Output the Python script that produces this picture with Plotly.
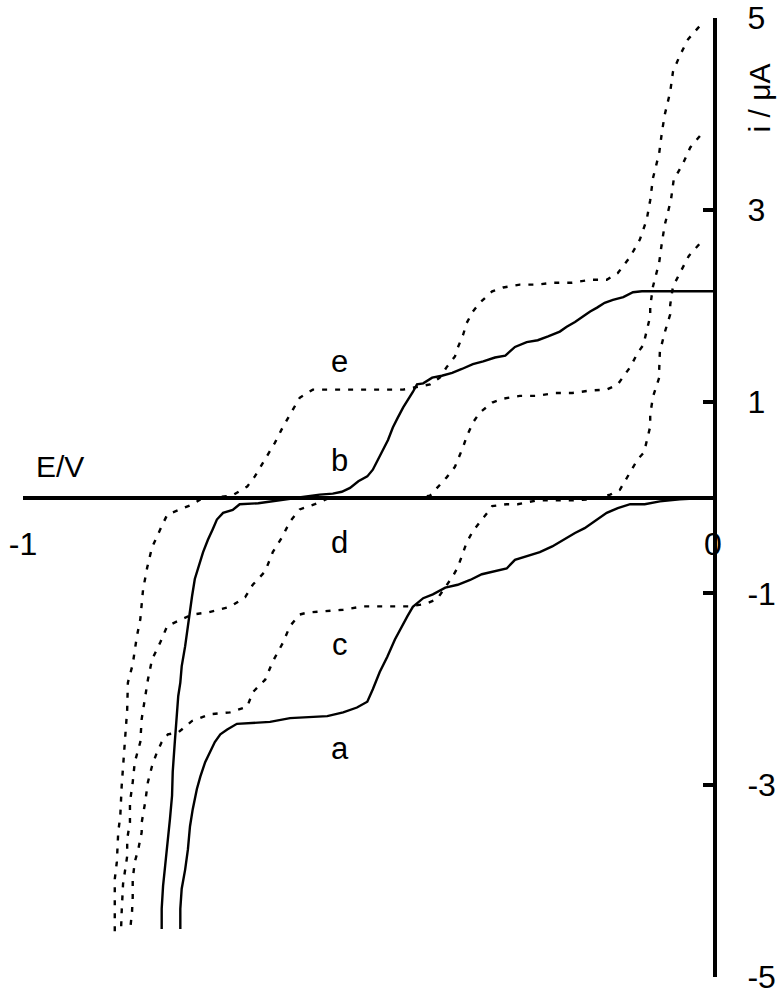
import plotly.graph_objects as go

# Potential E (V) and current i (uA)
E_a = [0, -0.048, -0.077, -0.099, -0.120, -0.138, -0.154, -0.168, -0.186, -0.200, -0.217, -0.233, -0.251, -0.265, -0.287,
       -0.299, -0.319, -0.335, -0.352, -0.370, -0.388, -0.406, -0.420, -0.435, -0.443, -0.451, -0.461, -0.472, -0.483,
       -0.493, -0.501, -0.516, -0.536, -0.559, -0.588, -0.613, -0.642, -0.671, -0.690, -0.704, -0.714, -0.722, -0.729,
       -0.736, -0.743, -0.748, -0.754, -0.758, -0.761, -0.765, -0.770, -0.772, -0.772]
i_a = [0, -0.02, -0.04, -0.07, -0.07, -0.11, -0.16, -0.23, -0.32, -0.37, -0.44, -0.51, -0.57, -0.60, -0.65,
       -0.74, -0.77, -0.80, -0.86, -0.91, -0.94, -1.01, -1.05, -1.14, -1.24, -1.35, -1.48, -1.66, -1.82,
       -2.00, -2.13, -2.19, -2.24, -2.28, -2.29, -2.30, -2.34, -2.35, -2.36, -2.42, -2.47, -2.55, -2.66,
       -2.76, -2.91, -3.04, -3.25, -3.43, -3.67, -3.88, -4.08, -4.29, -4.50]

E_b = [0, -0.103, -0.116, -0.130, -0.145, -0.157, -0.168, -0.178, -0.188, -0.200, -0.212, -0.222, -0.239, -0.254,
       -0.270, -0.287, -0.301, -0.316, -0.333, -0.348, -0.364, -0.378, -0.393, -0.407, -0.420, -0.429, -0.435, -0.442,
       -0.449, -0.457, -0.464, -0.471, -0.478, -0.486, -0.493, -0.501, -0.514, -0.526, -0.538, -0.551, -0.570, -0.600,
       -0.659, -0.686, -0.696, -0.710, -0.719, -0.725, -0.732, -0.739, -0.746, -0.751, -0.755, -0.758, -0.762, -0.765,
       -0.770, -0.772, -0.775, -0.777, -0.780, -0.783, -0.784, -0.787, -0.791, -0.794, -0.797, -0.799, -0.799]
i_b = [2.15, 2.15, 2.14, 2.09, 2.06, 2.03, 1.98, 1.94, 1.89, 1.83, 1.78, 1.73, 1.68, 1.64,
       1.62, 1.57, 1.48, 1.46, 1.42, 1.39, 1.34, 1.30, 1.27, 1.25, 1.19, 1.18, 1.10, 1.02,
       0.94, 0.83, 0.73, 0.60, 0.50, 0.40, 0.29, 0.22, 0.17, 0.10, 0.06, 0.04, 0.03, 0.00,
       -0.06, -0.07, -0.13, -0.16, -0.23, -0.33, -0.44, -0.57, -0.72, -0.85, -1.03, -1.20, -1.38, -1.55,
       -1.76, -1.93, -2.07, -2.31, -2.55, -2.86, -3.11, -3.35, -3.67, -3.84, -4.05, -4.29, -4.50]

E_c = [-0.020, -0.035, -0.048, -0.058, -0.062, -0.062, -0.070, -0.077, -0.078, -0.078, -0.087, -0.091, -0.091,
       -0.096, -0.100, -0.109, -0.122, -0.135, -0.149, -0.164, -0.178, -0.204, -0.229, -0.255, -0.283, -0.299,
       -0.320, -0.323, -0.335, -0.348, -0.357, -0.362, -0.370, -0.377, -0.386, -0.400, -0.417, -0.439, -0.483,
       -0.507, -0.536, -0.565, -0.588, -0.599, -0.613, -0.623, -0.638, -0.649, -0.667, -0.675, -0.700, -0.729,
       -0.755, -0.775, -0.790, -0.799, -0.806, -0.813, -0.819, -0.823, -0.828, -0.828, -0.833, -0.838, -0.841,
       -0.841, -0.842, -0.845]
i_c = [2.64, 2.52, 2.34, 2.20, 2.01, 1.91, 1.72, 1.52, 1.33, 1.25, 1.05, 0.865, 0.74,
       0.60, 0.47, 0.40, 0.24, 0.08, 0.03, 0.0, -0.02, -0.03, -0.03, -0.03, -0.07, -0.07,
       -0.09, -0.125, -0.23, -0.35, -0.47, -0.57, -0.73, -0.82, -0.91, -1.06, -1.11, -1.135, -1.135,
       -1.135, -1.17, -1.19, -1.20, -1.22, -1.34, -1.51, -1.71, -1.90, -2.03, -2.18, -2.24, -2.26,
       -2.33, -2.45, -2.47, -2.55, -2.66, -2.80, -2.97, -3.18, -3.39, -3.49, -3.67, -3.80, -3.98,
       -4.17, -4.32, -4.53]

E_d = [-0.019, -0.033, -0.043, -0.057, -0.061, -0.070, -0.074, -0.078, -0.087, -0.091, -0.091, -0.096, -0.101,
       -0.109, -0.120, -0.138, -0.154, -0.178, -0.204, -0.229, -0.255, -0.280, -0.304, -0.320, -0.338, -0.348,
       -0.357, -0.362, -0.370, -0.374, -0.386, -0.403, -0.410, -0.425, -0.555, -0.577, -0.599, -0.613, -0.625,
       -0.638, -0.649, -0.667, -0.678, -0.700, -0.733, -0.755, -0.777, -0.791, -0.801, -0.813, -0.819, -0.823,
       -0.828, -0.830, -0.838, -0.841, -0.845, -0.845, -0.849, -0.849, -0.852, -0.855, -0.857, -0.858]
i_d = [3.77, 3.65, 3.49, 3.31, 3.10, 2.84, 2.66, 2.45, 2.20, 1.99, 1.89, 1.75, 1.59,
       1.51, 1.36, 1.18, 1.125, 1.115, 1.09, 1.09, 1.06, 1.06, 1.03, 0.99, 0.885, 0.78,
       0.635, 0.53, 0.40, 0.32, 0.21, 0.08, 0.02, 0.0, 0.0, -0.07, -0.125, -0.25, -0.42,
       -0.57, -0.77, -0.91, -1.04, -1.14, -1.20, -1.22, -1.29, -1.34, -1.51, -1.69, -1.90, -2.07,
       -2.31, -2.55, -2.76, -2.97, -3.18, -3.39, -3.56, -3.74, -3.875, -4.03, -4.32, -4.53]

E_e = [-0.020, -0.036, -0.048, -0.058, -0.062, -0.070, -0.074, -0.078, -0.087, -0.091, -0.096, -0.106, -0.120,
       -0.138, -0.154, -0.178, -0.204, -0.232, -0.255, -0.280, -0.304, -0.320, -0.338, -0.348, -0.357, -0.362,
       -0.370, -0.374, -0.386, -0.396, -0.410, -0.432, -0.449, -0.483, -0.526, -0.580, -0.599, -0.610, -0.623,
       -0.635, -0.649, -0.664, -0.675, -0.697, -0.722, -0.743, -0.754, -0.772, -0.791, -0.799, -0.804, -0.813,
       -0.820, -0.826, -0.830, -0.835, -0.841, -0.848, -0.849, -0.852, -0.855, -0.857, -0.859, -0.862, -0.864,
       -0.867, -0.867, -0.867, -0.867]
i_e = [4.91, 4.78, 4.61, 4.44, 4.23, 3.99, 3.81, 3.59, 3.33, 3.10, 2.90, 2.69, 2.51,
       2.34, 2.27, 2.27, 2.24, 2.24, 2.22, 2.22, 2.19, 2.15, 2.03, 1.94, 1.82, 1.70,
       1.56, 1.47, 1.36, 1.25, 1.18, 1.15, 1.125, 1.125, 1.125, 1.125, 1.04, 0.90, 0.74,
       0.57, 0.40, 0.22, 0.115, 0.02, 0.0, -0.02, -0.07, -0.125, -0.18, -0.30, -0.385, -0.52,
       -0.73, -0.96, -1.27, -1.45, -1.74, -1.93, -2.21, -2.49, -2.80, -3.01, -3.32, -3.49, -3.80,
       -3.98, -4.16, -4.32, -4.53]

curve_labels = ["e", "b", "d", "c", "a"]
label_E = [-0.541, -0.541, -0.541, -0.541, -0.541]
label_i = [1.42, 0.39, -0.47, -1.53, -2.62]

y_ticks = [-5, -3, -1, 1, 3, 5]
y_ticktext = ["-5", "-3", "-1", "1", "3", "5"]
x_ticks = [-1, 0]
x_ticktext = ["-1", "0"]

FONT = "Liberation Sans, Arial, sans-serif"
fig = go.Figure()

solid = dict(color="black", width=2.4)
dotted = dict(color="black", width=2.4, dash="5px,8px")

for E, i, ln in [(E_c, i_c, dotted), (E_d, i_d, dotted), (E_e, i_e, dotted),
                 (E_a, i_a, solid), (E_b, i_b, solid)]:
    fig.add_trace(go.Scatter(x=E, y=i, mode="lines", line=ln, hoverinfo="skip"))

for t, xe, yi in zip(curve_labels, label_E, label_i):
    fig.add_annotation(x=xe, y=yi, xref="x", yref="y", text=t, showarrow=False,
                       xanchor="center", yanchor="middle",
                       font=dict(family=FONT, size=31, color="black"))

fig.add_annotation(x=-0.947, y=0.32, xref="x", yref="y", text="E/V", showarrow=False,
                   xanchor="center", yanchor="middle",
                   font=dict(family=FONT, size=30, color="black"))
fig.add_annotation(x=1.068, y=4.17, xref="paper", yref="y", text="i / μA", showarrow=False,
                   xanchor="center", yanchor="middle", textangle=-90,
                   font=dict(family=FONT, size=30, color="black"))

fig.update_layout(
    width=784, height=1000,
    margin=dict(l=23, r=71, t=18, b=23, autoexpand=False),
    plot_bgcolor="white", paper_bgcolor="white",
    showlegend=False,
    xaxis=dict(range=[-1, 0], anchor="free", position=0.5, showline=True, linecolor="black", linewidth=4,
               ticks="inside", ticklen=8, tickwidth=3, tickcolor="black", automargin=False,
               tickvals=x_ticks, ticktext=x_ticktext, showgrid=False, zeroline=False,
               ticklabelstandoff=17, ticklabeloverflow="allow",
               tickfont=dict(family=FONT, size=32, color="black")),
    yaxis=dict(range=[-5, 5], side="right", showline=True, linecolor="black", linewidth=4,
               ticks="inside", ticklen=10, tickwidth=3.5, tickcolor="black", automargin=False,
               tickvals=y_ticks, ticktext=y_ticktext, showgrid=False, zeroline=False,
               ticklabelstandoff=24, ticklabeloverflow="allow",
               tickfont=dict(family=FONT, size=32, color="black")),
)

# remove the default 8 px page margin so the 784x1000 figure fills the window exactly
fig.write_html("out.html", config={"displayModeBar": False},
               post_script="document.body.style.margin='0';document.body.style.overflow='hidden';")
